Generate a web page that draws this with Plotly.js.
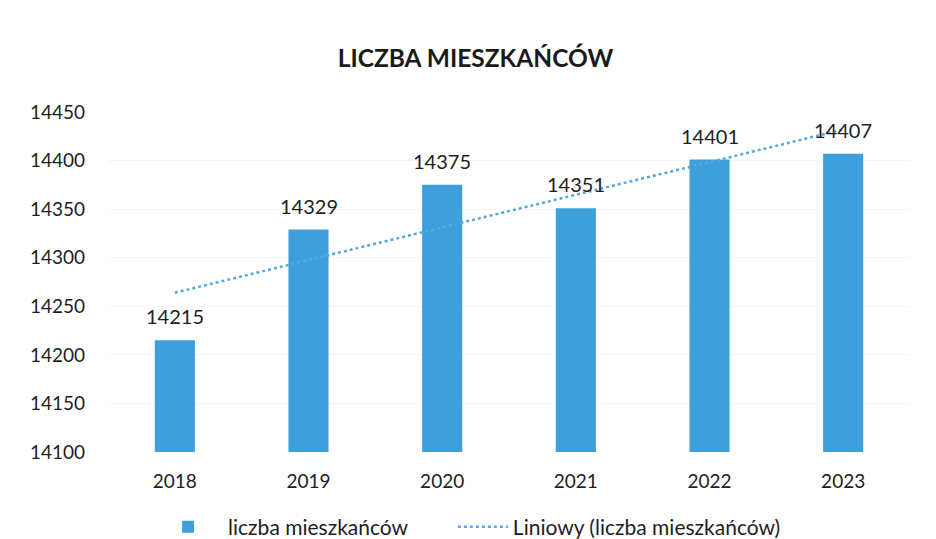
<!DOCTYPE html>
<html>
<head>
<meta charset="utf-8">
<script src="https://cdn.plot.ly/plotly-3.0.1.min.js"></script>
<style>html,body{margin:0;padding:0;background:#fff;}#chart{width:936px;height:539px;}</style>
</head>
<body>
<div id="chart"></div>
<script>
var years = ['2018', '2019', '2020', '2021', '2022', '2023'];
var residents = [14215, 14329, 14375, 14351, 14401, 14407];
var trendYears = ['2018', '2023'];
var trendValues = [14264, 14432];
var yTicks = [14100, 14150, 14200, 14250, 14300, 14350, 14400, 14450];

var font = 'Lato, "Open Sans", sans-serif';

var bars = {
  type: 'bar',
  x: years,
  y: residents,
  name: 'liczba mieszkańców',
  legend: 'legend',
  marker: {color: '#3d9fdc'},
  hoverinfo: 'x+y'
};
var trend = {
  type: 'scatter',
  mode: 'lines',
  x: trendYears,
  y: trendValues,
  name: 'Liniowy (liczba mieszkańców)',
  legend: 'legend2',
  line: {color: '#5aa7db', width: 2.5, dash: 'dot'}
};

var labels = years.map(function (yr, i) {
  return {x: i, y: residents[i], xref: 'x', yref: 'y', text: String(residents[i]),
          showarrow: false, yanchor: 'bottom', yshift: 10,
          font: {family: font, size: 20, color: '#1e1e1e'}};
});

var legendFont = {family: font, size: 21, color: '#1e1e1e'};

var layout = {
  width: 936, height: 539,
  margin: {l: 108, r: 26, t: 112, b: 87},
  paper_bgcolor: '#ffffff', plot_bgcolor: '#ffffff',
  title: {text: '<b>LICZBA MIESZKAŃCÓW</b>', x: 0.508, xanchor: 'center', y: 0.892, yanchor: 'middle',
          font: {family: font, size: 24.5, color: '#1a1a1a'}},
  bargap: 0.7,
  showlegend: true,
  legend: {orientation: 'h', x: 0.05, xanchor: 'left', xref: 'paper', yref: 'container', y: 0.022, yanchor: 'middle',
           font: legendFont, itemwidth: 70},
  legend2: {orientation: 'h', x: 0.43, xanchor: 'left', xref: 'paper', yref: 'container', y: 0.022, yanchor: 'middle',
           font: legendFont, itemwidth: 50},
  annotations: labels,
  xaxis: {type: 'category', categoryarray: years, range: [-0.5, 5.5], showline: false, ticks: '', showgrid: false,
          tickfont: {family: font, size: 19, color: '#1e1e1e'}, ticklabelstandoff: 16},
  yaxis: {range: [14100, 14450], tickvals: yTicks, ticktext: yTicks.map(String),
          showgrid: true, gridcolor: '#f6f6f6', zeroline: false, showline: false, ticks: '',
          tickfont: {family: font, size: 19, color: '#1e1e1e'}, ticklabelstandoff: 22}
};

Plotly.newPlot('chart', [bars, trend], layout, {displayModeBar: false, staticPlot: true});
</script>
</body>
</html>
